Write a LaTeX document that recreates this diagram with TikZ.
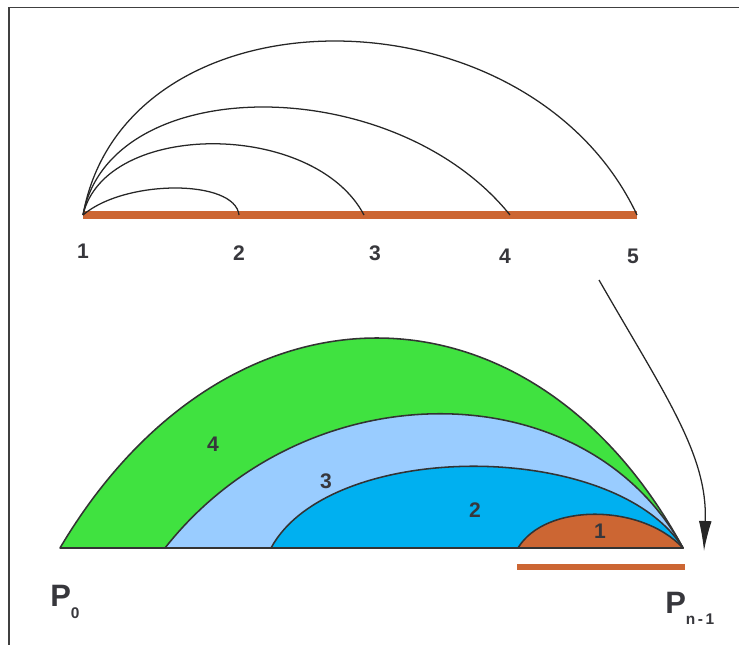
\documentclass[tikz,border=0pt]{standalone}
\usepackage{fontspec}
\setmainfont{Liberation Sans}
\usepackage{xcolor}
\usetikzlibrary{arrows.meta}

\definecolor{rust}{RGB}{204,102,51}
\definecolor{leaf}{RGB}{64,226,64}
\definecolor{pale}{RGB}{153,204,255}
\definecolor{sky}{RGB}{0,176,240}
\definecolor{ink}{RGB}{55,55,60}

\begin{document}
\begin{tikzpicture}[x=0.025cm, y=-0.025cm,
    numlbl/.style={font=\fontsize{15}{15}\selectfont\bfseries, text=ink, inner sep=0pt},
    ptlbl/.style={font=\fontsize{22}{22}\selectfont\bfseries, text=ink, inner sep=0pt, anchor=base west},
    arcline/.style={line width=0.9pt, black!85},
    region/.style={fill=#1, draw=black!80, line width=1.1pt, line join=round},
    bar/.style={rust, line width=#1}
]
    \useasboundingbox (0,0) rectangle (739,645);
    % frame
    \draw[black!75, line width=1.3pt] (9,645) -- (9,7.5) -- (739,7.5);

    % top: segment with arcs
    \coordinate (v1) at (83,215);
    \coordinate (v2) at (239,215);
    \coordinate (v3) at (364,215);
    \coordinate (v4) at (510,215);
    \coordinate (v5) at (637,215);
    \draw[bar=5pt] (v1) -- (v5);
    \draw[arcline] (v1) .. controls (125,179) and (235,179) .. (v2);
    \draw[arcline] (v1) .. controls (105,120) and (314,120) .. (v3);
    \draw[arcline] (v1) .. controls (110,71) and (394,71) .. (v4);
    \draw[arcline] (v1) .. controls (125,-17) and (528,-17) .. (v5);

    \node[numlbl] (n1) at (83,251) {1};
    \node[numlbl] (n2) at (239,253) {2};
    \node[numlbl] (n3) at (375,253) {3};
    \node[numlbl] (n4) at (505,256) {4};
    \node[numlbl] (n5) at (633,256) {5};

    % bottom: nested regions
    \coordinate (b0) at (60,548);
    \coordinate (b3) at (165,548);
    \coordinate (b2) at (271,548);
    \coordinate (b1) at (518,548);
    \coordinate (pn) at (683,548);
    \draw[region=leaf] (b0) .. controls (226,268) and (531,268) .. (pn) -- cycle;
    \draw[region=pale] (b3) .. controls (306,369) and (585,369) .. (pn) -- cycle;
    \draw[region=sky]  (b2) .. controls (330,439) and (615,439) .. (pn) -- cycle;
    \draw[region=rust] (b1) .. controls (545,503) and (641,503) .. (pn) -- cycle;
    \draw[black!80, line width=1.1pt] (b0) -- (pn);

    \node[numlbl] (r4) at (213,444) {4};
    \node[numlbl] (r3) at (326,481) {3};
    \node[numlbl] (r2) at (475,510) {2};
    \node[numlbl] (r1) at (600,531) {1};

    \coordinate (s1) at (517,567);
    \coordinate (s2) at (685,567);
    \draw[bar=4.3pt] (s1) -- (s2);

    % arrow from 5 down to P_{n-1}
    \coordinate (astart) at (599,280);
    \coordinate (aend) at (704,551);
    \draw[line width=0.9pt, black!85, -{Latex[length=7.5mm, width=3.2mm]}]
        (astart) .. controls (665,395) and (708,455) .. (aend);

    \node[ptlbl] (p0) at (50,606) {P\raisebox{-9pt}{\fontsize{11}{11}\selectfont 0}};
    \node[ptlbl] (pl) at (665,613) {P\raisebox{-8.5pt}{\fontsize{11}{11}\selectfont n\,-\,1}};
\end{tikzpicture}
\end{document}
